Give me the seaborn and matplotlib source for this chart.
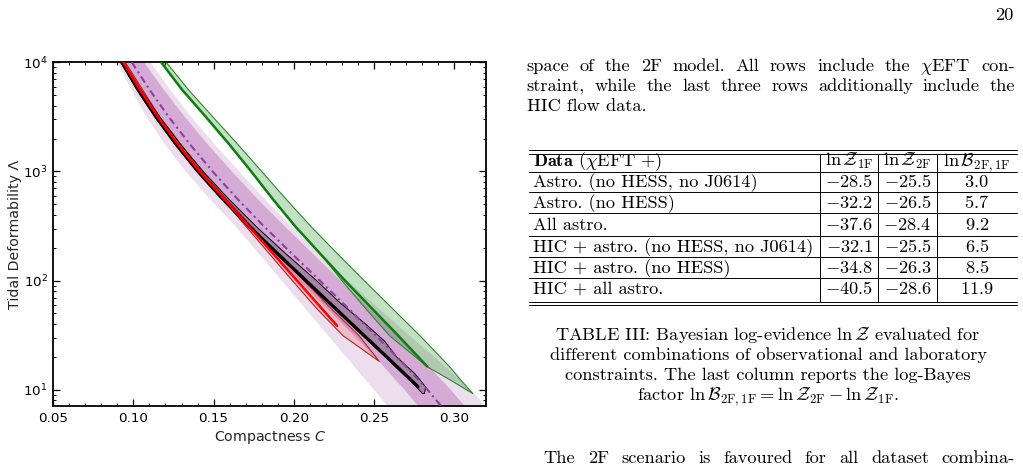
"""Tidal deformability vs compactness panel next to the evidence table (page 20)."""

import matplotlib

matplotlib.use("Agg")

import matplotlib.pyplot as plt
import pandas as pd
import seaborn as sns
from matplotlib.ticker import MultipleLocator

# ---------------------------------------------------------------------------
# values (compactness C at a given Lambda)
# ---------------------------------------------------------------------------
PURPLE_LAM = [1e4, 5623, 3162, 1778, 1000, 562, 316, 178, 100, 56.2, 31.6, 17.8, 10.0, 6.31]
PURPLE_MID = [0.0990, 0.1100, 0.1220, 0.1352, 0.1494, 0.1648, 0.1813, 0.1986, 0.2163,
              0.2338, 0.2510, 0.2678, 0.2835, 0.2950]
PURPLE_68_LO = [0.0940, 0.1040, 0.1150, 0.1272, 0.1404, 0.1548, 0.1703, 0.1866, 0.2033,
                0.2205, 0.2375, 0.2538, 0.2690, 0.2805]
PURPLE_68_HI = [0.1065, 0.1188, 0.1320, 0.1462, 0.1614, 0.1773, 0.1943, 0.2116, 0.2293,
                0.2471, 0.2645, 0.2818, 0.2980, 0.3095]
PURPLE_95_LO = [0.0898, 0.0985, 0.1080, 0.1195, 0.1325, 0.1475, 0.1636, 0.1780, 0.1924,
                0.2068, 0.2212, 0.2356, 0.2500, 0.2615]
PURPLE_95_HI = [0.1105, 0.1228, 0.1360, 0.1505, 0.1659, 0.1818, 0.1985, 0.2158, 0.2335,
                0.2528, 0.2720, 0.2918, 0.3105, 0.3230]

GREEN_LAM = [1e4, 5623, 3162, 1778, 1000, 562, 316, 178, 100, 56.2, 31.6, 16.3]
GREEN_MID = [0.1173, 0.1303, 0.1452, 0.1597, 0.1735, 0.1868, 0.2008, 0.2163, 0.2320,
             0.2485, 0.2650, 0.2834]
GREEN_BAND_LAM = [1e4, 5623, 3162, 1778, 1000, 562, 316, 178, 100, 56.2, 31.6, 16.3,
                  12.3, 9.31]
GREEN_LO = [0.1173, 0.1303, 0.1452, 0.1597, 0.1735, 0.1868, 0.2008, 0.2163, 0.2300,
            0.2445, 0.2595, 0.2834, 0.2979, 0.3115]
GREEN_HI = [0.1204, 0.1342, 0.1495, 0.1650, 0.1800, 0.1950, 0.2105, 0.2270, 0.2440,
            0.2612, 0.2785, 0.2972, 0.3042, 0.3115]

RED_LAM = [1e4, 5623, 3162, 1778, 1000, 562, 316, 178, 100, 56.2, 38.5]
RED_MID = [0.0938, 0.1040, 0.1153, 0.1277, 0.1413, 0.1566, 0.1719, 0.1870, 0.2021,
           0.2172, 0.2271]
RED_BAND_LAM = [1e4, 3162, 1000, 562, 316, 178, 100, 56.2, 31.6, 18.4]
RED_LO = [0.0930, 0.1145, 0.1403, 0.1555, 0.1700, 0.1845, 0.1991, 0.2140, 0.2305, 0.2531]
RED_HI = [0.0948, 0.1163, 0.1425, 0.1578, 0.1735, 0.1895, 0.2065, 0.2230, 0.2405, 0.2531]

BLACK_LAM = [1e4, 5623, 3162, 1778, 1000, 562, 316, 178, 100, 63.1, 39.8, 28.2, 20.0,
             14.1, 10.7]
BLACK_MID = [0.0928, 0.1030, 0.1143, 0.1268, 0.1405, 0.1558, 0.1723, 0.1898, 0.2078,
             0.2222, 0.2366, 0.2474, 0.2582, 0.2690, 0.2776]
BLACK_BAND_LAM = BLACK_LAM + [9.33]
BLACK_LO = [0.0918, 0.1019, 0.1131, 0.1256, 0.1393, 0.1546, 0.1711, 0.1886, 0.2066,
            0.2210, 0.2354, 0.2462, 0.2570, 0.2678, 0.2764, 0.2800]
BLACK_HI = [0.0938, 0.1045, 0.1163, 0.1293, 0.1435, 0.1593, 0.1763, 0.1948, 0.2143,
            0.2287, 0.2451, 0.2564, 0.2642, 0.2755, 0.2821, 0.2812]

# table III
ROW_LABELS = [
    "Astro. (no HESS, no J0614)",
    "Astro. (no HESS)",
    "All astro.",
    "HIC + astro. (no HESS, no J0614)",
    "HIC + astro. (no HESS)",
    "HIC + all astro.",
]
LNZ_1F = [-28.5, -32.2, -37.6, -32.1, -34.8, -40.5]
LNZ_2F = [-25.5, -26.5, -28.4, -25.5, -26.3, -28.6]
LNB = [3.0, 5.7, 9.2, 6.5, 8.5, 11.9]

W, H = 1023, 468

sns.set_theme(style="ticks")
plt.rcParams.update(
    {
        "font.family": ["DejaVu Sans"],
        "xtick.direction": "in",
        "ytick.direction": "in",
        "xtick.top": True,
        "ytick.right": True,
        "xtick.major.size": 5,
        "ytick.major.size": 5,
        "xtick.minor.size": 2.5,
        "ytick.minor.size": 2.5,
        "xtick.major.width": 0.9,
        "ytick.major.width": 0.9,
        "xtick.minor.width": 0.7,
        "ytick.minor.width": 0.7,
        "xtick.color": "black",
        "ytick.color": "black",
        "axes.edgecolor": "black",
        "axes.linewidth": 1.3,
    }
)

fig = plt.figure(figsize=(W / 100, H / 100), dpi=100)
ax = fig.add_axes([53.3 / W, (H - 406) / H, (486 - 53.3) / W, (406 - 62.3) / H])

# bands
ax.fill_betweenx(PURPLE_LAM, PURPLE_95_LO, PURPLE_95_HI, color="#ecdeec", lw=0, zorder=1)
ax.fill_betweenx(PURPLE_LAM, PURPLE_68_LO, PURPLE_68_HI, color="#d5abd5", lw=0, zorder=1.1)
ax.fill_betweenx(GREEN_BAND_LAM, GREEN_LO, GREEN_HI, facecolor=(0, 0.5, 0, 0.24),
                 edgecolor="#2b8a2b", lw=0.8, zorder=2)
ax.fill_betweenx(RED_BAND_LAM, RED_LO, RED_HI, facecolor=(1, 0, 0, 0.15),
                 edgecolor="#b22222", lw=0.8, zorder=2.1)
ax.fill_betweenx(BLACK_BAND_LAM, BLACK_LO, BLACK_HI, facecolor=(0, 0, 0, 0.22),
                 edgecolor="black", lw=0.7, zorder=2.2)

# central curves
lines = [
    (BLACK_LAM, BLACK_MID, "black", 2.2, "-", 3.0),
    (RED_LAM, RED_MID, "#ff0000", 1.8, "-", 3.1),
    (GREEN_LAM, GREEN_MID, "#0e7d0e", 1.8, "-", 3.2),
    (PURPLE_LAM, PURPLE_MID, "#8e3fa3", 1.5, (0, (3.5, 1.8, 1.0, 1.8)), 3.3),
]
for lam, comp, color, lw, ls, z in lines:
    df = pd.DataFrame({"C": comp, "Lambda": lam})
    sns.lineplot(data=df, x="C", y="Lambda", sort=False, estimator=None, color=color,
                 lw=lw, linestyle=ls, ax=ax, zorder=z)

ax.set_yscale("log")
ax.set_xlim(0.05, 0.32)
ax.set_ylim(7.1, 1e4)
ax.xaxis.set_major_locator(MultipleLocator(0.05))
ax.xaxis.set_minor_locator(MultipleLocator(0.01))
ax.tick_params(which="both", labelsize=9.7, pad=4)
ax.set_xlabel(r"Compactness $C$", fontsize=10.2, labelpad=3)
ax.set_ylabel("Tidal Deformability Λ", fontsize=10.2, labelpad=1)

# ---------------------------------------------------------------------------
# page text on the right, drawn in pixel coordinates
# ---------------------------------------------------------------------------
tax = fig.add_axes([0, 0, 1, 1], zorder=5)
tax.set_xlim(0, W)
tax.set_ylim(H, 0)
tax.axis("off")

txt = dict(family="cmr10", math_fontfamily="cm", fontsize=13.2, color="black", va="baseline")
renderer = fig.canvas.get_renderer()


def justified(x0, x1, y, line):
    words = line.split(" ")
    arts = [tax.text(0, y, w, **txt) for w in words]
    widths = [a.get_window_extent(renderer).width for a in arts]
    gap = (x1 - x0 - sum(widths)) / (len(words) - 1)
    x = x0
    for a, w in zip(arts, widths):
        a.set_x(x)
        x += w + gap


tax.text(1014, 20, "20", ha="right", **txt)
justified(526.7, 1015, 70.7, r"space of the 2F model. All rows include the $\chi$EFT con-")
justified(526.7, 1015, 90.7, "straint, while the last three rows additionally include the")
tax.text(526.7, 111, "HIC flow data.", **txt)

# table
x_left, x_right = 529.3, 1017
v_lines = [820, 878.3, 936.7]
for y in [150.3, 153.7, 171.7, 192.3, 213.3, 236.0, 257.3, 278.3, 301.7, 305.0]:
    tax.plot([x_left, x_right], [y, y], color="black", lw=0.7)
for x in v_lines:
    tax.plot([x, x], [153.7, 301.7], color="black", lw=0.7)

col_c = [849.2, 907.5, 976.8]
header_y = 166.0
tax.text(533.3, header_y, r"$\mathbf{Data}$ ($\chi$EFT +)", **txt)
tax.text(col_c[0], header_y, r"$\ln\mathcal{Z}_{1\mathrm{F}}$", ha="center", **txt)
tax.text(col_c[1], header_y, r"$\ln\mathcal{Z}_{2\mathrm{F}}$", ha="center", **txt)
tax.text(col_c[2], header_y, r"$\ln\mathcal{B}_{2\mathrm{F},1\mathrm{F}}$", ha="center", **txt)

row_base = [187.0, 208.0, 230.0, 251.8, 272.8, 294.0]
for yb, lab, z1, z2, b in zip(row_base, ROW_LABELS, LNZ_1F, LNZ_2F, LNB):
    tax.text(533.3, yb, lab, **txt)
    tax.text(col_c[0], yb, f"${z1:.1f}$", ha="center", **txt)
    tax.text(col_c[1], yb, f"${z2:.1f}$", ha="center", **txt)
    tax.text(col_c[2], yb, f"${b:.1f}$", ha="center", **txt)

caption = [
    r"TABLE III: Bayesian log-evidence $\ln\mathcal{Z}$ evaluated for",
    "different combinations of observational and laboratory",
    "constraints. The last column reports the log-Bayes",
    r"factor $\ln\mathcal{B}_{2\mathrm{F},1\mathrm{F}} = \ln\mathcal{Z}_{2\mathrm{F}}"
    r" - \ln\mathcal{Z}_{1\mathrm{F}}$.",
]
for i, line in enumerate(caption):
    tax.text(768, 340 + 20 * i, line, ha="center", **txt)

justified(543.4, 1015, 463, "The 2F scenario is favoured for all dataset combina-")

fig.savefig("out.png", dpi=100)
